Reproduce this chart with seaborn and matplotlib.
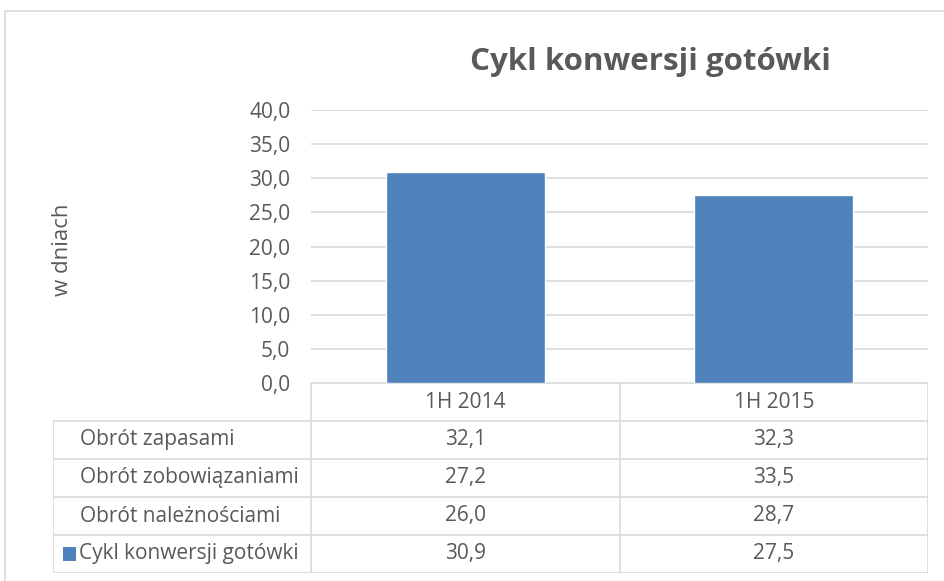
import matplotlib
matplotlib.use("Agg")
import matplotlib.pyplot as plt
import seaborn as sns
import pandas as pd
from matplotlib.patches import Rectangle

categories = ["1H 2014", "1H 2015"]
cykl = [30.9, 27.5]
zapasy = [32.1, 32.3]
zobowiazania = [27.2, 33.5]
naleznosci = [26.0, 28.7]

row_names = ["Obrót zapasami", "Obrót zobowiązaniami", "Obrót należnościami", "Cykl konwersji gotówki"]
row_values = [zapasy, zobowiazania, naleznosci, cykl]
y_ticks = [0, 5, 10, 15, 20, 25, 30, 35, 40]

BAR = "#4f81bd"
TXT = "#595959"
GRID = "#d9d9d9"

def fmt(v):
    return f"{v:.1f}".replace(".", ",")

sns.set_theme(style="white")
plt.rcParams["font.family"] = ["Open Sans", "DejaVu Sans"]

fig = plt.figure(figsize=(9.44, 5.81), dpi=100)

# outer chart frame
fig.patches.append(Rectangle((5 / 944, -0.05), 1.0, 1 - 11 / 581 + 0.05, transform=fig.transFigure,
                             fill=False, edgecolor=GRID, lw=1.2))

ax = fig.add_axes([311 / 944, 198 / 581, 617 / 944, 273 / 581])
df = pd.DataFrame({"okres": categories, "dni": cykl})
sns.barplot(data=df, x="okres", y="dni", color=BAR, saturation=1, width=0.515, ax=ax)
ax.set_xlim(-0.5, 1.5)
ax.set_ylim(0, 40)
ax.set_yticks(y_ticks)
ax.set_yticklabels([fmt(t) for t in y_ticks], color=TXT, fontsize=15)
ax.tick_params(axis="y", length=0, pad=15)
ax.set_xticks([])
ax.set_xlabel("")
ax.set_ylabel("")
ax.yaxis.grid(True, color=GRID, lw=1.2)
ax.set_axisbelow(True)
for s in ["top", "right", "left", "bottom"]:
    ax.spines[s].set_visible(False)

fig.text(62 / 944, 1 - 250 / 581, "w dniach", rotation=90, ha="center", va="center",
         color=TXT, fontsize=16)
fig.text(650 / 944, 1 - 62 / 581, "Cykl konwersji gotówki", ha="center", va="center",
         color=TXT, fontsize=22.5, fontweight="bold")

# data table below the plot
left = -0.5 - 258 / 308.5
tab = fig.add_axes([53 / 944, 8 / 581, 875 / 944, 190 / 581])
tab.set_xlim(left, 1.5)
tab.set_ylim(5, 0)
tab.axis("off")

tab.hlines(0, -0.5, 1.5, color=GRID, lw=1.2)
tab.hlines(range(1, 6), left, 1.5, color=GRID, lw=1.2)
tab.vlines([-0.5, 0.5, 1.5], 0, 5, color=GRID, lw=1.2)
tab.vlines(left, 1, 5, color=GRID, lw=1.2)

for i, c in enumerate(categories):
    tab.text(i, 0.5, c, ha="center", va="center", color=TXT, fontsize=15)

for r, (name, vals) in enumerate(zip(row_names, row_values)):
    y = r + 1.5
    if name == "Cykl konwersji gotówki":
        tab.add_patch(Rectangle((left + 10 / 308.5, y - 0.18), 13 / 308.5, 0.36, color=BAR, lw=0))
        tab.text(left + 26 / 308.5, y, name, ha="left", va="center", color=TXT, fontsize=15)
    else:
        tab.text(left + 27 / 308.5, y, name, ha="left", va="center", color=TXT, fontsize=15)
    for i, v in enumerate(vals):
        tab.text(i, y, fmt(v), ha="center", va="center", color=TXT, fontsize=15)

fig.savefig("out.png", dpi=100)
